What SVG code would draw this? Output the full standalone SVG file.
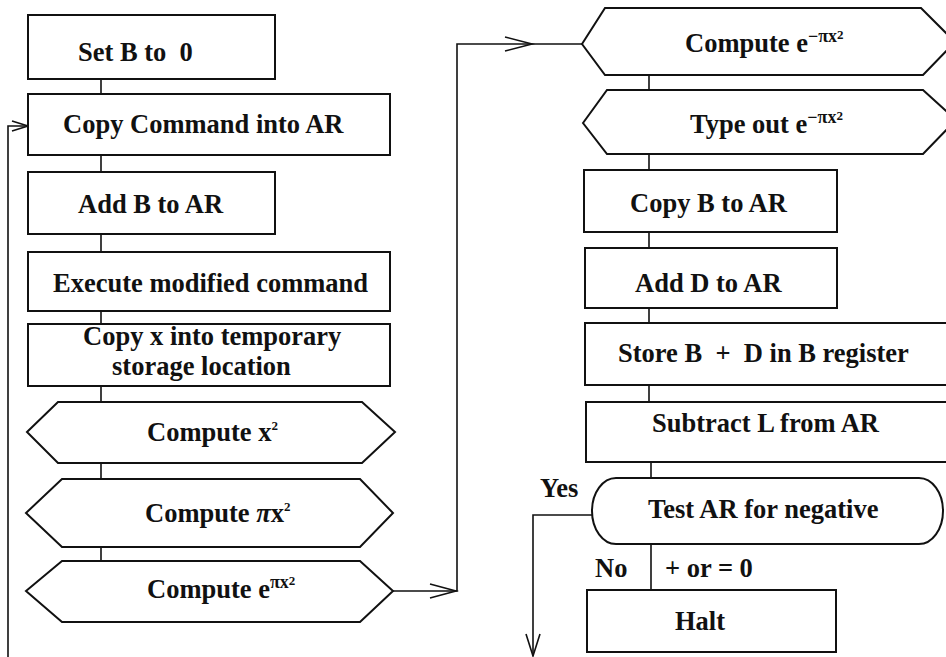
<svg xmlns="http://www.w3.org/2000/svg" width="946" height="657" viewBox="0 0 946 657">
<style>
.shape{fill:#fff;stroke:#111;stroke-width:2}
.line{fill:none;stroke:#111;stroke-width:1.6}
.head{fill:none;stroke:#111;stroke-width:1.6;stroke-linejoin:miter}
text{font-family:"Liberation Serif","Times New Roman",serif;font-weight:bold;font-size:26.5px;fill:#111}
.sup{font-size:18px}
.sup2{font-size:13px}
</style>
<rect width="946" height="657" fill="#fff"/>
<g id="connectors">
<path class="line" d="M101 79V94M101 155V172M101 234V252M101 311V324M101 386V402M101 463V479M101 547V561"/>
<path class="line" d="M8 657V126H28"/>
<path class="head" d="M12 121L28 126L12 131"/>
<path class="line" d="M393 591H457V44H582"/>
<path class="head" d="M430 584L456 591L430 598"/>
<path class="head" d="M505 37L532 44L505 51"/>
<path class="line" d="M649 75V91M649 154V170M649 232V248M649 308V323M649 385V402M651 462V478M651 544V590"/>
<path class="line" d="M592 515H533V656"/>
<path class="head" d="M526 634L533 656L540 634"/>
</g>
<g id="setB"><rect class="shape" x="28" y="15" width="247" height="64"/><text x="78" y="61" xml:space="preserve">Set B to  0</text></g>
<g id="copyCommand"><rect class="shape" x="28" y="94" width="362" height="61"/><text x="63" y="133">Copy Command into AR</text></g>
<g id="addB"><rect class="shape" x="28" y="172" width="247" height="62"/><text x="78" y="213">Add B to AR</text></g>
<g id="execute"><rect class="shape" x="28" y="252" width="362" height="59"/><text x="53" y="292">Execute modified command</text></g>
<g id="copyX"><rect class="shape" x="28" y="324" width="362" height="62"/><text x="83" y="345">Copy x into temporary</text><text x="112" y="375">storage location</text></g>
<g id="computeX2"><polygon class="shape" points="27,432 58,402 362,402 395,432 362,463 58,463"/><text x="147" y="441">Compute x<tspan class="sup2" dy="-11">2</tspan></text></g>
<g id="computePiX2"><polygon class="shape" points="26,513 62,479 360,479 393,513 360,547 62,547"/><text x="145" y="522">Compute <tspan font-style="italic">π</tspan>x<tspan class="sup2" dy="-11">2</tspan></text></g>
<g id="computeExp"><polygon class="shape" points="26,591 62,561 360,561 393,591 360,622 62,622"/><text x="147" y="598">Compute e<tspan class="sup" dy="-10">πx</tspan><tspan class="sup2" dy="-3">2</tspan></text></g>
<g id="computeExpNeg"><polygon class="shape" points="582,44 605,8 921,8 955,42 923,75 605,75"/><text x="685" y="52">Compute e<tspan class="sup" dy="-10">−πx</tspan><tspan class="sup2" dy="-3">2</tspan></text></g>
<g id="typeOut"><polygon class="shape" points="583,123 607,90 923,90 956,120 923,154 607,154"/><text x="690" y="133">Type out e<tspan class="sup" dy="-10">−πx</tspan><tspan class="sup2" dy="-3">2</tspan></text></g>
<g id="copyB"><rect class="shape" x="584" y="170" width="253" height="62"/><text x="630" y="212">Copy B to AR</text></g>
<g id="addD"><rect class="shape" x="585" y="248" width="252" height="60"/><text x="635" y="292">Add D to AR</text></g>
<g id="storeBD"><rect class="shape" x="585" y="323" width="375" height="62"/><text x="618" y="362" xml:space="preserve">Store B  +  D in B register</text></g>
<g id="subtractL"><rect class="shape" x="586" y="402" width="375" height="60"/><text x="652" y="432">Subtract L from AR</text></g>
<g id="testAR"><rect class="shape" x="592" y="478" width="351" height="66" rx="24" ry="33"/><text x="648" y="518">Test AR for negative</text></g>
<g id="halt"><rect class="shape" x="587" y="590" width="249" height="62"/><text x="675" y="630">Halt</text></g>
<g id="labels"><text x="540" y="497">Yes</text><text x="595" y="577">No</text><text x="665" y="577" xml:space="preserve">+ or = 0</text></g>
</svg>
